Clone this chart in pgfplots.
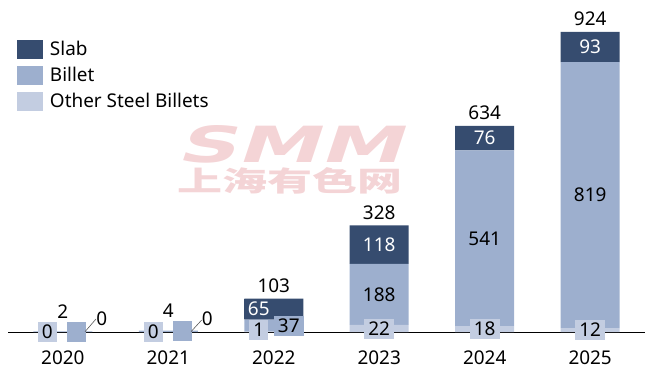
\documentclass[border=0pt]{standalone}
\usepackage{pgfplots}
\pgfplotsset{compat=1.18}
\usepackage{pgfplotstable}
\usepackage{graphicx}
\usepackage{fontspec}
\setmainfont{Noto Sans}
\newfontfamily\cjk{Noto Sans CJK SC}
\newfontfamily\wmfont{DejaVu Sans}[FakeSlant=0.2]
\definecolor{slab}{HTML}{364C6F}
\definecolor{billet}{HTML}{9DAFCE}
\definecolor{other}{HTML}{C3CDE1}
\definecolor{wm}{HTML}{F4D4D6}

% o = Other Steel Billets, b = Billet, s = Slab, t = total label
\pgfplotstableread{
x o  b   s   ol bl          sl  tl  odx   ody  bdx bdy sdx sdy  tdy
0 0  2   0   0  \phantom{0} 0   2   -15.5 0    14  0   39  12.8 7
1 0  4   0   0  \phantom{0} 0   4   -15   0    14  0   39  12.2 7
2 1  37  65  1  37          65  103 -15   1.8  15  0   -15 0    0
3 22 188 118 22 188         118 328 0     -0.5 0   0   0   0    0
4 18 541 76  18 541         76  634 0     0    0   0   0   0    0
5 12 819 93  12 819         93  924 0     0    0   0   0   0    0
}\data

\newcommand{\lblfont}{\fontsize{19}{19}\selectfont}

\pgfplotsset{
  common/.style={
    at={(8bp,49bp)}, anchor=south west,
    scale only axis, width=637bp, height=324.7bp,
    xmin=-0.52, xmax=5.52, ymin=0, ymax=1000, clip=false,
  },
  lbl/.style 2 args={
    draw=none, mark=none,
    nodes near coords,
    point meta=explicit symbolic,
    visualization depends on={\thisrow{#1dx}\as\dx},
    visualization depends on={\thisrow{#1dy}\as\dy},
    every node near coord/.append style={anchor=center, font=\lblfont,
      inner xsep=4bp, inner ysep=3bp, fill=#2,
      xshift=\dx*1bp, yshift=\dy*1bp},
  },
}

\begin{document}
\begin{tikzpicture}
\path[use as bounding box] (0,0) rectangle (654bp,381bp);
% watermark
\node[text=wm, inner sep=0pt] at (289.5bp,237bp) {\resizebox{225bp}{37bp}{\wmfont\bfseries SMM}};
\node[text=wm, inner sep=0pt] at (289.5bp,200bp) {\resizebox{225bp}{24bp}{\cjk\bfseries 上海有色网}};

\begin{axis}[common, ybar stacked, bar width=59bp,
  axis x line=bottom, axis y line=none,
  axis line style={black, line width=0.75bp, -},
  xtick={0,...,5},
  xticklabels={\textnormal{2020},\textnormal{2021},\textnormal{2022},\textnormal{2023},\textnormal{2024},\textnormal{2025}},
  major tick length=0pt, ytick=\empty,
  xticklabel style={font=\lblfont, inner sep=0pt, anchor=north, yshift=-19bp},
  reverse legend,
  legend cell align=left,
  legend style={at={(0,1)}, anchor=north west, xshift=9bp, yshift=-32.7bp,
    draw=none, fill=none, inner sep=0pt, outer sep=0pt, row sep=7bp,
    font=\lblfont, nodes={inner sep=0pt},
    /tikz/every odd column/.append style={column sep=7bp}},
]
\addplot[fill=other, draw=none, legend image code/.code={\fill[other] (0bp,-9.5bp) rectangle (26bp,9.5bp);}]
  table[x=x, y=o]{\data};
\addlegendentry{Other Steel Billets}
\addplot[fill=billet, draw=none, legend image code/.code={\fill[billet] (0bp,-9.5bp) rectangle (26bp,9.5bp);}]
  table[x=x, y=b]{\data};
\addlegendentry{Billet}
\addplot[fill=slab, draw=none, legend image code/.code={\fill[slab] (0bp,-9.5bp) rectangle (26bp,9.5bp);}]
  table[x=x, y=s]{\data};
\addlegendentry{Slab}
\end{axis}

\begin{axis}[common, hide axis]
\addplot[lbl={o}{other}] table[x=x, y expr=\thisrow{o}/2, meta=ol]{\data};
\addplot[lbl={b}{billet}] table[x=x, y expr=\thisrow{o}+\thisrow{b}/2, meta=bl]{\data};
\addplot[lbl={s}{slab}, restrict x to domain=1.5:5.5, every node near coord/.append style={text=white}]
  table[x=x, y expr=\thisrow{o}+\thisrow{b}+\thisrow{s}/2, meta=sl]{\data};
\addplot[lbl={s}{none}, restrict x to domain=-0.5:1.5, every node near coord/.append style={text=black, fill=none}]
  table[x=x, y expr=\thisrow{o}+\thisrow{b}+\thisrow{s}/2, meta=sl]{\data};
\addplot[draw=none, mark=none, nodes near coords, point meta=explicit symbolic,
  visualization depends on={\thisrow{tdy}\as\dy},
  every node near coord/.append style={anchor=south, font=\lblfont, inner sep=0pt, yshift=(6+\dy)*1bp}]
  table[x=x, y expr=\thisrow{o}+\thisrow{b}+\thisrow{s}, meta=tl]{\data};
\end{axis}

\draw[gray!70!black, line width=0.6bp] (85bp,49.3bp) -- (96bp,62bp);
\draw[gray!70!black, line width=0.6bp] (191bp,49.3bp) -- (201.7bp,61bp);
\end{tikzpicture}
\end{document}
